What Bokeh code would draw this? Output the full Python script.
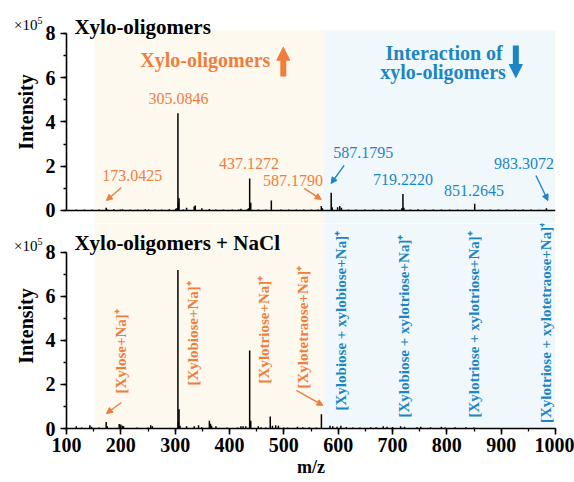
import numpy as np
from bokeh.plotting import figure
from bokeh.models import (Range1d, LinearAxis, SingleIntervalTicker, BoxAnnotation,
                          Span, Label, Arrow, NormalHead, Div)
from bokeh.layouts import column
from bokeh.core.properties import value
from bokeh.embed import file_html
from bokeh.resources import INLINE

# ---------------- data ----------------
top_mz = [118, 133, 147, 160, 173.04, 176, 187, 199, 203, 217,
          231, 245, 251, 263, 275, 289, 301, 303, 305.08, 306,
          307.1, 315, 321, 335, 337, 349, 363, 375, 389, 405,
          417, 421, 433, 435, 437.13, 438, 439.1, 453, 467, 477,
          495, 509, 523, 537, 551, 563, 569, 571, 587.18, 589,
          599, 603, 606, 619, 633, 649, 665, 680, 695, 706,
          717, 719.22, 721, 733, 747, 760, 775, 790, 805, 820,
          835, 851.26, 865, 880, 895, 910, 925, 940, 955, 970,
          983.31]
top_int = [0.04, 0.05, 0.04, 0.04, 0.12, 0.05, 0.06, 0.04, 0.06, 0.04,
           0.04, 0.06, 0.05, 0.04, 0.05, 0.06, 0.08, 0.10, 4.40, 0.35,
           0.55, 0.05, 0.12, 0.18, 0.22, 0.10, 0.07, 0.05, 0.04, 0.04,
           0.05, 0.08, 0.06, 0.10, 1.45, 0.30, 0.35, 0.05, 0.04, 0.45,
           0.04, 0.04, 0.04, 0.05, 0.04, 0.05, 0.20, 0.10, 0.80, 0.15,
           0.15, 0.20, 0.12, 0.04, 0.05, 0.04, 0.05, 0.04, 0.04, 0.05,
           0.10, 0.74, 0.12, 0.05, 0.06, 0.04, 0.05, 0.04, 0.05, 0.04,
           0.04, 0.30, 0.04, 0.04, 0.05, 0.04, 0.04, 0.04, 0.04, 0.03,
           0.10]

bot_mz = [118, 128, 143, 146, 160, 173.04, 175, 197, 200, 203,
          205, 230, 250, 255, 258, 305.08, 306, 307.1, 309, 321,
          335, 343, 349, 363, 365, 367, 375, 395, 415, 421,
          425, 430, 437.13, 438, 439.1, 453, 458, 467, 475, 479,
          485, 490, 500, 507, 525, 535, 547, 560, 569.17, 585,
          590, 598, 605, 615, 627, 640, 660, 670, 683, 690,
          700, 715, 722, 745, 752, 770, 790, 797, 815, 835,
          850]
bot_int = [0.10, 0.04, 0.15, 0.08, 0.04, 0.30, 0.10, 0.20, 0.18, 0.12,
           0.10, 0.04, 0.05, 0.15, 0.10, 7.20, 0.30, 0.88, 0.12, 0.10,
           0.10, 0.15, 0.06, 0.35, 0.22, 0.12, 0.10, 0.05, 0.04, 0.10,
           0.10, 0.10, 3.55, 0.30, 0.35, 0.10, 0.06, 0.05, 0.55, 0.12,
           0.15, 0.12, 0.05, 0.05, 0.08, 0.06, 0.06, 0.05, 0.65, 0.12,
           0.10, 0.08, 0.12, 0.07, 0.05, 0.05, 0.06, 0.06, 0.10, 0.08,
           0.07, 0.10, 0.08, 0.06, 0.08, 0.06, 0.08, 0.05, 0.06, 0.06,
           0.05]

# peak annotations (top panel)
top_lab_orange = ["173.0425", "305.0846", "437.1272", "587.1790"]
top_lab_orange_x = [221, 306, 436, 517]
top_lab_orange_y = [1.58, 5.07, 2.13, 1.36]
top_lab_blue = ["587.1795", "719.2220", "851.2645", "983.3072"]
top_lab_blue_x = [646, 719.5, 850, 942]
top_lab_blue_y = [2.62, 1.40, 0.90, 2.13]

# species labels (bottom panel)
bot_lab_orange = ["[Xylose+Na]\u207a", "[Xylobiose+Na]\u207a", "[Xylotriose+Na]\u207a",
                  "[Xylotetraose+Na]\u207a"]
bot_lab_orange_x = [201, 333, 464, 536]
bot_lab_orange_y = [1.59, 1.95, 2.05, 1.82]
bot_lab_blue = ["[Xylobiose + xylobiose+Na]\u207a", "[Xylobiose + xylotriose+Na]\u207a",
                "[Xylotriose + xylotriose+Na]\u207a", "[Xylotriose + xylotetraose+Na]\u207a"]
bot_lab_blue_x = [605, 721, 850, 982]
bot_lab_blue_y = [0.82, 0.50, 0.50, 0.25]

x_ticks_start, x_ticks_end = 100, 1000

ORANGE = "#EF7E3E"
BLUE = "#1C86C4"
BEIGE = "#FDF9EE"
LBLUE = "#F0F8FC"
SERIF = "Liberation Serif"


def style_axis(ax, tick_size, label_size):
    ax.axis_line_width = 1.6
    ax.axis_line_color = "black"
    ax.major_tick_line_width = 1.6
    ax.minor_tick_line_width = 1.3
    ax.major_tick_out = 6
    ax.major_tick_in = 0
    ax.minor_tick_out = 3
    ax.minor_tick_in = 0
    ax.major_label_text_font = SERIF
    ax.major_label_text_font_style = "bold"
    ax.major_label_text_font_size = tick_size
    ax.major_label_text_color = "black"
    ax.axis_label_text_font = SERIF
    ax.axis_label_text_font_style = "bold"
    ax.axis_label_text_font_size = label_size
    ax.axis_label_text_color = "black"


def shade(p, top):
    p.add_layout(BoxAnnotation(left=151.5, right=574, top=top, fill_color=BEIGE,
                               fill_alpha=1, line_color=None, level="underlay"))
    p.add_layout(BoxAnnotation(left=574, top=top, fill_color=LBLUE,
                               fill_alpha=1, line_color=None, level="underlay"))


def times_ten(left, top):
    """'x10^5' multiplier text placed over the left margin of a panel."""
    return Div(text='\u00d710<sup style="font-size:10px">5</sup>', width=40, height=20,
               styles={"position": "absolute", "left": f"{left}px", "top": f"{top}px",
                       "font-family": "'Liberation Serif', serif", "font-size": "15px",
                       "line-height": "16px", "color": "black", "z-index": "5",
                       "margin": "0px", "padding": "0px"})


xr = Range1d(x_ticks_start, x_ticks_end)

# ---------------- top panel ----------------
p1 = figure(width=574, height=223, x_range=xr, y_range=Range1d(-0.588, 9.49),
            output_backend="svg", toolbar_location=None,
            x_axis_location=None, y_axis_location=None,
            min_border_left=66, min_border_right=19, min_border_top=0, min_border_bottom=0,
            outline_line_color=None)
p1.grid.visible = False
ya1 = LinearAxis(bounds=(0, 8), ticker=SingleIntervalTicker(interval=2, num_minor_ticks=2),
                 axis_label="Intensity", axis_label_standoff=6)
style_axis(ya1, "20px", "20px")
p1.add_layout(ya1, "left")
shade(p1, 8.15)
p1.add_layout(Span(location=0, dimension="width", line_color="black", line_width=1.6))

p1.segment(x0=top_mz, y0=0, x1=top_mz, y1=top_int, line_color="black", line_width=1.5)

p1.text(x=top_lab_orange_x, y=top_lab_orange_y, text=top_lab_orange, text_color=ORANGE,
        text_font=value(SERIF), text_font_size="16px", text_align="center",
        text_baseline="middle")
p1.text(x=top_lab_blue_x, y=top_lab_blue_y, text=top_lab_blue, text_color=BLUE,
        text_font=value(SERIF), text_font_size="16px", text_align="center",
        text_baseline="middle")

# small pointer arrows
for (xs, ys, xe, ye, c) in [(201, 1.04, 173.5, 0.45, ORANGE),
                            (537.5, 1.0, 568.8, 0.5, ORANGE),
                            (611, 2.04, 587, 1.22, BLUE),
                            (964, 1.58, 986, 0.45, BLUE)]:
    p1.add_layout(Arrow(x_start=xs, y_start=ys, x_end=xe, y_end=ye, line_color=c,
                        line_width=1.4,
                        end=NormalHead(size=6, fill_color=c, line_color=c, line_width=1)))

# headings
p1.add_layout(Label(x=114.5, y=8.3, text="Xylo-oligomers", text_font=SERIF,
                    text_font_style="bold", text_font_size="21px", text_baseline="middle",
                    text_color="black"))
p1.add_layout(Label(x=355.5, y=6.79, text="Xylo-oligomers", text_font=SERIF,
                    text_font_style="bold", text_font_size="20px", text_baseline="middle",
                    text_align="center", text_color=ORANGE))
p1.add_layout(Label(x=795, y=7.10, text="Interaction of", text_font=SERIF,
                    text_font_style="bold", text_font_size="20px", text_baseline="middle",
                    text_align="center", text_color=BLUE))
p1.add_layout(Label(x=793, y=6.24, text="xylo-oligomers", text_font=SERIF,
                    text_font_style="bold", text_font_size="20px", text_baseline="middle",
                    text_align="center", text_color=BLUE))
# block arrows
p1.segment(x0=[499], y0=[6.06], x1=[499], y1=[6.85], line_color=ORANGE, line_width=6)
p1.add_layout(Arrow(x_start=499, y_start=6.6, x_end=499, y_end=7.38, line_alpha=0,
                    end=NormalHead(size=13, fill_color=ORANGE, line_color=ORANGE)))
p1.segment(x0=[927], y0=[7.46], x1=[927], y1=[6.55], line_color=BLUE, line_width=6)
p1.add_layout(Arrow(x_start=927, y_start=6.8, x_end=927, y_end=6.01, line_alpha=0,
                    end=NormalHead(size=13, fill_color=BLUE, line_color=BLUE)))

# ---------------- bottom panel ----------------
p2 = figure(width=574, height=259, x_range=xr, y_range=Range1d(0, 9.318),
            output_backend="svg", toolbar_location=None,
            x_axis_location=None, y_axis_location=None,
            min_border_left=66, min_border_right=19, min_border_top=0, min_border_bottom=54,
            outline_line_color=None)
p2.grid.visible = False
ya2 = LinearAxis(bounds=(0, 8), ticker=SingleIntervalTicker(interval=2, num_minor_ticks=2),
                 axis_label="Intensity", axis_label_standoff=6)
style_axis(ya2, "20px", "20px")
p2.add_layout(ya2, "left")
xa2 = LinearAxis(ticker=SingleIntervalTicker(interval=100, num_minor_ticks=2),
                 axis_label="m/z", axis_label_standoff=2, major_label_standoff=3)
style_axis(xa2, "20px", "18px")
p2.add_layout(xa2, "below")
shade(p2, None)

p2.segment(x0=bot_mz, y0=0, x1=bot_mz, y1=bot_int, line_color="black", line_width=1.5)

p2.text(x=bot_lab_orange_x, y=bot_lab_orange_y, text=bot_lab_orange, text_color=ORANGE,
        text_font=value(SERIF), text_font_style="bold", text_font_size="15px",
        text_align="left", text_baseline="middle", angle=np.pi / 2)
p2.text(x=bot_lab_blue_x, y=bot_lab_blue_y, text=bot_lab_blue, text_color=BLUE,
        text_font=value(SERIF), text_font_style="bold", text_font_size="15px",
        text_align="left", text_baseline="middle", angle=np.pi / 2)

for (xs, ys, xe, ye, c) in [(201, 1.18, 173.5, 0.68, ORANGE),
                            (523, 1.73, 572, 1.05, ORANGE)]:
    p2.add_layout(Arrow(x_start=xs, y_start=ys, x_end=xe, y_end=ye, line_color=c,
                        line_width=1.4,
                        end=NormalHead(size=6, fill_color=c, line_color=c, line_width=1)))

p2.add_layout(Label(x=114.5, y=8.45, text="Xylo-oligomers + NaCl", text_font=SERIF,
                    text_font_style="bold", text_font_size="21px", text_baseline="middle",
                    text_color="black"))

t1 = times_ten(14, 13)
t2 = times_ten(14, 234)

layout = column(p1, p2, t1, t2, spacing=0, styles={"position": "relative"})
open("out.html", "w").write(file_html(layout, INLINE))
